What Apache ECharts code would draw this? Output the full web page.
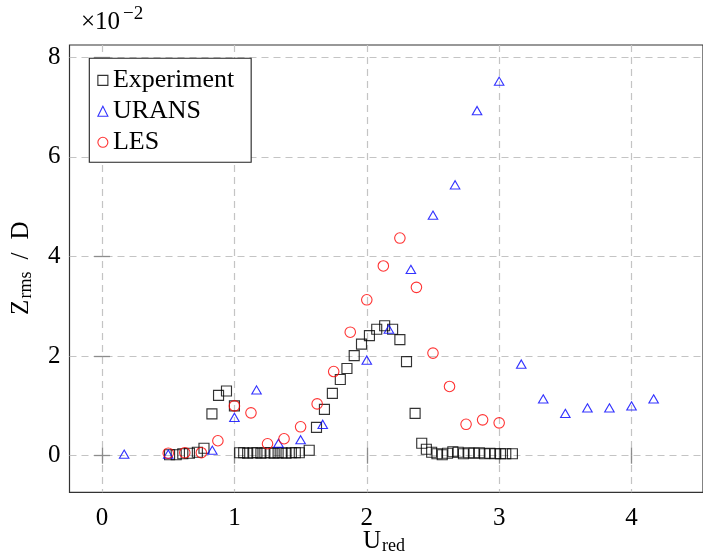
<!DOCTYPE html>
<html>
<head>
<meta charset="utf-8">
<script src="https://cdn.jsdelivr.net/npm/echarts@6/dist/echarts.min.js"></script>
<style>
  html, body { margin: 0; padding: 0; background: #fff; }
  #chart { width: 703px; height: 553px; }
</style>
</head>
<body>
<div id="chart"></div>
<script>
// Z_rms / D values are stored in units of 1e-2 (the axis carries the ×10⁻² factor).
const expU = [0.51, 0.56, 0.61, 0.66, 0.72, 0.77, 0.83, 0.88, 0.94, 1.00,
  1.04, 1.07, 1.10, 1.14, 1.17, 1.20, 1.23, 1.27, 1.30, 1.33, 1.36, 1.39, 1.43, 1.46, 1.49,
  1.565, 1.62, 1.68, 1.74, 1.80, 1.85, 1.905, 1.96, 2.02, 2.075, 2.135, 2.195, 2.25, 2.30,
  2.365, 2.415, 2.45,
  2.49, 2.53, 2.57, 2.61, 2.65, 2.69, 2.73, 2.77, 2.81, 2.85, 2.89, 2.93, 2.97, 3.01, 3.05, 3.10];
const expZ = [0.02, 0.02, 0.04, 0.05, 0.07, 0.15, 0.84, 1.21, 1.30, 1.00,
  0.06, 0.06, 0.05, 0.06, 0.06, 0.05, 0.06, 0.06, 0.05, 0.06, 0.06, 0.05, 0.06, 0.06, 0.06,
  0.11, 0.57, 0.93, 1.25, 1.53, 1.75, 2.01, 2.24, 2.41, 2.54, 2.61, 2.54, 2.33, 1.89,
  0.85, 0.25, 0.13,
  0.07, 0.04, 0.02, 0.05, 0.08, 0.07, 0.04, 0.06, 0.05, 0.06, 0.04, 0.05, 0.04, 0.04, 0.04, 0.04];

const uransU = [0.167, 0.5, 0.833, 1.0, 1.167, 1.333, 1.5, 1.667, 2.0, 2.167, 2.333, 2.5,
  2.667, 2.833, 3.0, 3.167, 3.333, 3.5, 3.667, 3.833, 4.0, 4.167];
const uransZ = [0.03, 0.03, 0.11, 0.77, 1.32, 0.25, 0.32, 0.63, 1.92, 2.54, 3.74, 4.83,
  5.44, 6.93, 7.52, 1.84, 1.14, 0.85, 0.96, 0.96, 1.00, 1.14];

const lesU = [0.5, 0.625, 0.75, 0.875, 1.0, 1.125, 1.25, 1.375, 1.5, 1.625, 1.75, 1.875,
  2.0, 2.125, 2.25, 2.375, 2.5, 2.625, 2.75, 2.875, 3.0];
const lesZ = [0.05, 0.06, 0.06, 0.30, 1.00, 0.86, 0.24, 0.34, 0.58, 1.04, 1.69, 2.48,
  3.13, 3.81, 4.37, 3.38, 2.06, 1.39, 0.63, 0.72, 0.66];

const xTicks = [0, 1, 2, 3, 4];
const yTicks = [0, 2, 4, 6, 8];

const FONT = "'Liberation Serif', 'Times New Roman', serif";
const pairs = (xs, ys) => xs.map((x, i) => [x, ys[i]]);

const X_MIN = -0.246, X_MAX = 4.54;
const Y_MIN = -0.735, Y_MAX = 8.247;

const gridLine = { show: true, lineStyle: { color: '#c4c4c4', width: 1.2, type: [7, 5] } };
const tickStyle = { lineStyle: { color: '#8c8c8c', width: 1.3 } };

function xAxis(pos, labels) {
  return {
    type: 'value', position: pos, min: X_MIN, max: X_MAX,
    axisLine: { show: false },
    axisTick: Object.assign({ show: true, inside: true, length: 8, customValues: xTicks }, tickStyle),
    axisLabel: { show: labels, customValues: xTicks, margin: 14, color: '#000',
      fontFamily: FONT, fontSize: 25 },
    splitLine: labels ? gridLine : { show: false }
  };
}
function yAxis(pos, labels) {
  return {
    type: 'value', position: pos, min: Y_MIN, max: Y_MAX,
    axisLine: { show: false },
    axisTick: Object.assign({ show: true, inside: true, length: 8, customValues: yTicks }, tickStyle),
    axisLabel: { show: labels, customValues: yTicks, margin: 9, color: '#000',
      fontFamily: FONT, fontSize: 25 },
    splitLine: labels ? gridLine : { show: false }
  };
}

const expStyle = { color: 'rgba(0,0,0,0)', borderColor: '#000', borderWidth: 1.15 };
const uransStyle = { color: 'rgba(0,0,0,0)', borderColor: '#0000ff', borderWidth: 1.1 };
const lesStyle = { color: 'rgba(0,0,0,0)', borderColor: '#ff0000', borderWidth: 1.1 };

const chart = echarts.init(document.getElementById('chart'), null, { renderer: 'canvas' });
chart.setOption({
  animation: false,
  backgroundColor: '#fff',
  grid: {
    left: 69.5, right: 0, top: 45, bottom: 60.7,
    show: true, borderColor: '#333', borderWidth: 1.2, backgroundColor: 'transparent',
    containLabel: false, outerBoundsMode: 'none'
  },
  xAxis: [xAxis('bottom', true), xAxis('top', false)],
  yAxis: [yAxis('left', true), yAxis('right', false)],
  legend: {
    orient: 'vertical', left: 89.3, top: 58.3,
    padding: [9, 17, 7, 8], itemGap: 5,
    itemWidth: 10, itemHeight: 10,
    backgroundColor: '#fff', borderColor: '#222', borderWidth: 1.1, borderRadius: 0,
    textStyle: { fontFamily: FONT, fontSize: 26, color: '#000', lineHeight: 26 },
    selectedMode: false,
    data: [
      { name: 'Experiment', icon: 'rect', itemStyle: expStyle },
      { name: 'URANS', icon: 'triangle', itemStyle: uransStyle },
      { name: 'LES', icon: 'circle', itemStyle: lesStyle }
    ]
  },
  series: [
    { name: 'Experiment', type: 'scatter', data: pairs(expU, expZ), symbol: 'rect',
      symbolSize: 10, itemStyle: expStyle, silent: true },
    { name: 'URANS', type: 'scatter', data: pairs(uransU, uransZ), symbol: 'triangle',
      symbolSize: [9.5, 8.2], itemStyle: uransStyle, silent: true },
    { name: 'LES', type: 'scatter', data: pairs(lesU, lesZ), symbol: 'circle',
      symbolSize: 10.5, itemStyle: lesStyle, silent: true }
  ],
  graphic: [
    // axis multiplier
    { type: 'text', x: 81, y: 22, style: { text: '×10', font: '25px ' + FONT, fill: '#000',
      verticalAlign: 'middle' } },
    { type: 'text', x: 123, y: 14, style: { text: '−2', font: '19px ' + FONT, fill: '#000',
      verticalAlign: 'middle' } },
    // x-axis title U_red
    { type: 'text', x: 363, y: 541, style: { text: 'U', font: '25px ' + FONT, fill: '#000',
      verticalAlign: 'middle' } },
    { type: 'text', x: 382, y: 546, style: { text: 'red', font: '18px ' + FONT, fill: '#000',
      verticalAlign: 'middle' } },
    // y-axis title Z_rms / D, rotated to read upwards
    { type: 'group', x: 21, y: 267.5, rotation: Math.PI / 2, children: [
      { type: 'text', x: -47.5, y: 0, style: { text: 'Z', font: '25px ' + FONT, fill: '#000',
        verticalAlign: 'middle' } },
      { type: 'text', x: -31, y: 5, style: { text: 'rms', font: '18px ' + FONT, fill: '#000',
        verticalAlign: 'middle' } },
      { type: 'text', x: 8, y: 0, style: { text: '/', font: '25px ' + FONT, fill: '#000',
        verticalAlign: 'middle' } },
      { type: 'text', x: 28, y: 0, style: { text: 'D', font: '25px ' + FONT, fill: '#000',
        verticalAlign: 'middle' } }
    ] }
  ]
});
</script>
</body>
</html>
